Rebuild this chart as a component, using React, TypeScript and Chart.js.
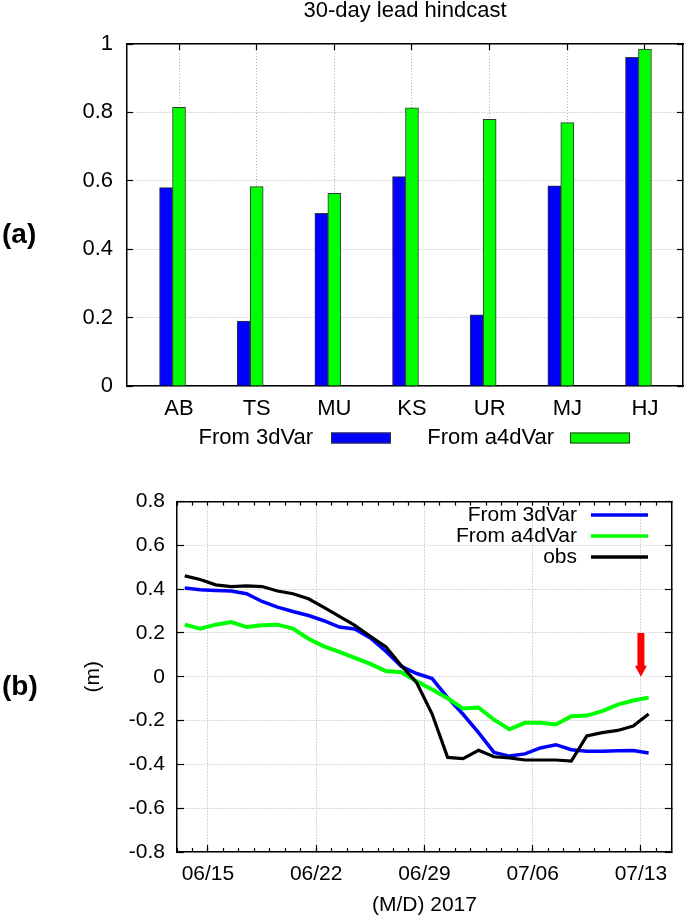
import React, { useEffect, useRef } from 'react';
import { Chart, registerables } from 'chart.js';

Chart.register(...registerables);

const FONT = "'Liberation Sans', Arial, Helvetica, sans-serif";

// ---------- (a) bar chart data ----------
const barTitle = '30-day lead hindcast';
const categories = ['AB', 'TS', 'MU', 'KS', 'UR', 'MJ', 'HJ'];
const bars3dVar = [0.58, 0.19, 0.505, 0.612, 0.208, 0.585, 0.961];
const barsA4dVar = [0.815, 0.583, 0.563, 0.813, 0.78, 0.77, 0.985];
const barYTicks = [0, 0.2, 0.4, 0.6, 0.8, 1];
const barYTickLabels = ['0', '0.2', '0.4', '0.6', '0.8', '1'];

// ---------- (b) line chart data ----------
const days = [
  '06/13', '06/14', '06/15', '06/16', '06/17', '06/18', '06/19', '06/20', '06/21', '06/22',
  '06/23', '06/24', '06/25', '06/26', '06/27', '06/28', '06/29', '06/30', '07/01', '07/02',
  '07/03', '07/04', '07/05', '07/06', '07/07', '07/08', '07/09', '07/10', '07/11', '07/12', '07/13',
];
const line3dVar = [
  0.405, 0.397, 0.394, 0.392, 0.379, 0.344, 0.318, 0.298, 0.28, 0.256,
  0.227, 0.218, 0.177, 0.117, 0.048, 0.015, -0.008, -0.095, -0.171, -0.255,
  -0.345, -0.362, -0.352, -0.325, -0.31, -0.333, -0.34, -0.34, -0.338, -0.337, -0.348,
];
const lineA4dVar = [
  0.238, 0.22, 0.238, 0.25, 0.227, 0.235, 0.238, 0.22, 0.174, 0.139,
  0.114, 0.086, 0.059, 0.026, 0.021, -0.02, -0.058, -0.098, -0.145, -0.14,
  -0.196, -0.24, -0.21, -0.21, -0.218, -0.18, -0.177, -0.157, -0.127, -0.108, -0.095,
];
const lineObs = [
  0.461, 0.444, 0.42, 0.412, 0.415, 0.412, 0.392, 0.379, 0.356, 0.317,
  0.276, 0.235, 0.185, 0.138, 0.052, -0.027, -0.17, -0.368, -0.374, -0.336,
  -0.365, -0.37, -0.38, -0.38, -0.38, -0.385, -0.27, -0.255, -0.245, -0.225, -0.17,
];
const lineXTickLabels = ['06/15', '06/22', '06/29', '07/06', '07/13'];
const lineYTicks = [-0.8, -0.6, -0.4, -0.2, 0, 0.2, 0.4, 0.6, 0.8];
const lineYTickLabels = ['-0.8', '-0.6', '-0.4', '-0.2', '0', '0.2', '0.4', '0.6', '0.8'];
const lineXTitle = '(M/D) 2017';
const lineYTitle = '(m)';
const arrowDay = '07/13';
const arrowFrom = 0.2;
const arrowTo = 0;

// ---------- plugins ----------
const gnuLegend = {
  id: 'gnuLegend',
  afterDraw(chart: any, _args: any, opts: any) {
    if (!opts || !opts.items) return;
    const ctx = chart.ctx;
    ctx.save();
    ctx.font = `${opts.size}px ${FONT}`;
    ctx.textAlign = 'right';
    ctx.textBaseline = 'middle';
    const items = opts.items;
    for (let i = 0; i < items.length; i++) {
      const it = items[i];
      const ds = chart.data.datasets[it.dataset];
      ctx.fillStyle = '#000';
      ctx.fillText(ds.label, it.textRight, it.y);
      if (opts.sample === 'box') {
        ctx.fillStyle = ds.backgroundColor;
        ctx.fillRect(it.sampleX, it.y - opts.boxH / 2, opts.sampleW, opts.boxH);
        ctx.strokeStyle = '#333';
        ctx.lineWidth = 1;
        ctx.strokeRect(it.sampleX + 0.5, it.y - opts.boxH / 2 + 0.5, opts.sampleW - 1, opts.boxH - 1);
      } else {
        ctx.strokeStyle = ds.borderColor;
        ctx.lineWidth = opts.lineW;
        ctx.beginPath();
        ctx.moveTo(it.sampleX, it.y);
        ctx.lineTo(it.sampleX + opts.sampleW, it.y);
        ctx.stroke();
      }
    }
    ctx.restore();
  },
};

const gnuArrow = {
  id: 'gnuArrow',
  afterDatasetsDraw(chart: any, _args: any, opts: any) {
    if (!opts || opts.x === undefined) return;
    const ctx = chart.ctx;
    const x = chart.scales.x.getPixelForValue(opts.x);
    const y1 = chart.scales.y.getPixelForValue(opts.from);
    const y2 = chart.scales.y.getPixelForValue(opts.to);
    const head = opts.headLen;
    const half = opts.headHalf;
    ctx.save();
    ctx.strokeStyle = opts.color;
    ctx.fillStyle = opts.color;
    ctx.lineWidth = opts.width;
    ctx.beginPath();
    ctx.moveTo(x, y1);
    ctx.lineTo(x, y2 - head + 1);
    ctx.stroke();
    ctx.beginPath();
    ctx.moveTo(x - half, y2 - head);
    ctx.lineTo(x + half, y2 - head);
    ctx.lineTo(x, y2);
    ctx.closePath();
    ctx.fill();
    ctx.restore();
  },
};

// ---------- shared styles ----------
const dotGrid = (tick: number) => ({
  color: '#b0b0b0',
  lineWidth: 1,
  tickColor: '#000',
  tickWidth: 1.2,
  tickBorderDash: [],
  tickLength: tick,
});
const border = { color: '#000', width: 1.5, dash: [1, 2] };
const plainBorder = { color: '#000', width: 1.5 };

export default function App() {
  const refA = useRef<HTMLCanvasElement>(null);
  const refB = useRef<HTMLCanvasElement>(null);

  useEffect(() => {
    Chart.defaults.font.family = FONT;
    Chart.defaults.color = '#000';

    // ---- chart (a) ----
    const xMin = -0.67;
    const xMax = 6.49;
    const barShift = 0.167;
    const catTicks = (s: any) => {
      s.ticks = categories.map((_, i) => ({ value: i }));
    };
    const yTicksA = (s: any) => {
      s.ticks = barYTicks.map((v) => ({ value: v }));
    };
    const chartA = new Chart(refA.current as HTMLCanvasElement, {
      type: 'bar',
      data: {
        datasets: [
          {
            label: 'From 3dVar',
            data: bars3dVar.map((v, i) => ({ x: i, y: v })) as any,
            backgroundColor: '#0000ff',
            borderColor: '#333333',
            borderWidth: 1,
            barThickness: 13,
            grouped: false,
            xAxisID: 'xs',
            yAxisID: 'y',
          },
          {
            label: 'From a4dVar',
            data: barsA4dVar.map((v, i) => ({ x: i, y: v })) as any,
            backgroundColor: '#00ff00',
            borderColor: '#333333',
            borderWidth: 1,
            barThickness: 13,
            grouped: false,
            xAxisID: 'x',
            yAxisID: 'y',
          },
        ] as any,
      },
      options: {
        responsive: false,
        animation: false,
        events: [],
        layout: { padding: 0 },
        plugins: {
          legend: { display: false },
          tooltip: { enabled: false },
          title: {
            display: true,
            text: barTitle,
            fullSize: false,
            color: '#000',
            font: { family: FONT, size: 22, weight: 'normal', lineHeight: 1 },
            padding: { top: 0, bottom: 22 },
          },
          gnuLegend: {
            size: 22,
            sample: 'box',
            sampleW: 60,
            boxH: 11,
            items: [
              { dataset: 0, textRight: 313, sampleX: 331, y: 438 },
              { dataset: 1, textRight: 554, sampleX: 570, y: 438 },
            ],
          },
        } as any,
        scales: {
          x: {
            type: 'linear',
            position: 'bottom',
            min: xMin,
            max: xMax,
            offset: false,
            afterBuildTicks: catTicks,
            ticks: {
              callback: (_v: any, i: number) => categories[i],
              font: { family: FONT, size: 22 },
              color: '#000',
              padding: 16,
              maxRotation: 0,
              autoSkip: false,
            },
            grid: { ...dotGrid(-6), offset: false },
            border,
            afterFit: (s: any) => {
              s.height = 84;
            },
          },
          xs: {
            type: 'linear',
            display: false,
            offset: false,
            min: xMin + barShift,
            max: xMax + barShift,
            grid: { offset: false },
          },
          xt: {
            type: 'linear',
            position: 'top',
            min: xMin,
            max: xMax,
            offset: false,
            afterBuildTicks: catTicks,
            ticks: { display: false },
            grid: { ...dotGrid(-6), drawOnChartArea: false, offset: false },
            border: plainBorder,
            afterFit: (s: any) => {
              s.height = 0;
            },
          },
          y: {
            type: 'linear',
            position: 'left',
            min: 0,
            max: 1,
            afterBuildTicks: yTicksA,
            ticks: {
              callback: (_v: any, i: number) => barYTickLabels[i],
              font: { family: FONT, size: 22 },
              color: '#000',
              padding: 20,
            },
            grid: dotGrid(-6),
            border,
            afterFit: (s: any) => {
              s.width = 127;
            },
          },
          yr: {
            type: 'linear',
            position: 'right',
            min: 0,
            max: 1,
            afterBuildTicks: yTicksA,
            ticks: { display: false },
            grid: { ...dotGrid(-6), drawOnChartArea: false },
            border: plainBorder,
            afterFit: (s: any) => {
              s.width = 2;
            },
          },
        } as any,
      },
      plugins: [gnuLegend],
    });

    // ---- chart (b) ----
    const dayMin = 0;
    const dayMax = days.length + 1;
    const majorTicks = (s: any) => {
      s.ticks = lineXTickLabels.map((l) => ({ value: days.indexOf(l) }));
    };
    const minorTicks = (s: any) => {
      const t: any[] = [];
      for (let d = dayMin; d <= dayMax; d++) t.push({ value: d });
      s.ticks = t;
    };
    const yTicksB = (s: any) => {
      s.ticks = lineYTicks.map((v) => ({ value: v }));
    };
    const toPts = (arr: number[]) => arr.map((v, i) => ({ x: i + 0.5, y: v }));
    const chartB = new Chart(refB.current as HTMLCanvasElement, {
      type: 'line',
      data: {
        datasets: [
          {
            label: 'From 3dVar',
            data: toPts(line3dVar) as any,
            borderColor: '#0000ff',
            borderWidth: 3.5,
            pointRadius: 0,
            tension: 0,
            order: 2,
          },
          {
            label: 'From a4dVar',
            data: toPts(lineA4dVar) as any,
            borderColor: '#00ff00',
            borderWidth: 4,
            pointRadius: 0,
            tension: 0,
            order: 1,
          },
          {
            label: 'obs',
            data: toPts(lineObs) as any,
            borderColor: '#000000',
            borderWidth: 3.2,
            pointRadius: 0,
            tension: 0,
            order: 0,
          },
        ],
      },
      options: {
        responsive: false,
        animation: false,
        events: [],
        layout: { padding: 0 },
        plugins: {
          legend: { display: false },
          tooltip: { enabled: false },
          gnuLegend: {
            size: 21,
            sample: 'line',
            sampleW: 57,
            lineW: 3.5,
            items: [
              { dataset: 0, textRight: 577, sampleX: 591, y: 45 },
              { dataset: 1, textRight: 577, sampleX: 591, y: 66 },
              { dataset: 2, textRight: 577, sampleX: 591, y: 87 },
            ],
          },
          gnuArrow: {
            x: days.indexOf(arrowDay),
            from: arrowFrom,
            to: arrowTo,
            color: '#ff0000',
            width: 7,
            headLen: 11,
            headHalf: 6,
          },
        } as any,
        scales: {
          x: {
            type: 'linear',
            position: 'bottom',
            min: dayMin,
            max: dayMax,
            weight: 0,
            afterBuildTicks: majorTicks,
            ticks: {
              callback: (_v: any, i: number) => lineXTickLabels[i],
              font: { family: FONT, size: 21 },
              color: '#000',
              padding: 17,
              maxRotation: 0,
              autoSkip: false,
            },
            grid: dotGrid(-7),
            border,
            title: {
              display: true,
              text: lineXTitle,
              font: { family: FONT, size: 21 },
              color: '#000',
              padding: { top: 0, bottom: 0 },
            },
            afterFit: (s: any) => {
              s.height = 66;
            },
          },
          xm: {
            type: 'linear',
            position: 'bottom',
            min: dayMin,
            max: dayMax,
            weight: -1,
            afterBuildTicks: minorTicks,
            ticks: { display: false },
            grid: { ...dotGrid(-4), drawOnChartArea: false },
            border: { display: false },
            afterFit: (s: any) => {
              s.height = 0;
            },
          },
          xt: {
            type: 'linear',
            position: 'top',
            min: dayMin,
            max: dayMax,
            afterBuildTicks: minorTicks,
            ticks: { display: false },
            grid: { ...dotGrid(-4), drawOnChartArea: false },
            border: plainBorder,
            afterFit: (s: any) => {
              s.height = 30;
            },
          },
          y: {
            type: 'linear',
            position: 'left',
            min: -0.8,
            max: 0.8,
            afterBuildTicks: yTicksB,
            ticks: {
              callback: (_v: any, i: number) => lineYTickLabels[i],
              font: { family: FONT, size: 21 },
              color: '#000',
              padding: 19,
            },
            grid: dotGrid(-7),
            border,
            title: {
              display: true,
              text: lineYTitle,
              font: { family: FONT, size: 21 },
              color: '#000',
              padding: { top: 81, bottom: 0 },
            },
            afterFit: (s: any) => {
              s.width = 177;
            },
          },
          yr: {
            type: 'linear',
            position: 'right',
            min: -0.8,
            max: 0.8,
            afterBuildTicks: yTicksB,
            ticks: { display: false },
            grid: { ...dotGrid(-7), drawOnChartArea: false },
            border: plainBorder,
            afterFit: (s: any) => {
              s.width = 12;
            },
          },
        } as any,
      },
      plugins: [gnuLegend, gnuArrow],
    });

    return () => {
      chartA.destroy();
      chartB.destroy();
    };
  }, []);

  const panelLabel: React.CSSProperties = {
    position: 'absolute',
    left: 2,
    fontFamily: FONT,
    fontSize: 28,
    fontWeight: 'bold',
    lineHeight: 1,
    color: '#000',
  };

  return (
    <div
      style={{
        position: 'absolute',
        left: 0,
        top: 0,
        width: 685,
        height: 918,
        background: '#fff',
        overflow: 'hidden',
      }}
    >
      <canvas
        ref={refA}
        width={685}
        height={470}
        style={{ position: 'absolute', left: 0, top: 0, width: 685, height: 470 }}
      />
      <canvas
        ref={refB}
        width={685}
        height={448}
        style={{ position: 'absolute', left: 0, top: 470, width: 685, height: 448 }}
      />
      <div style={{ ...panelLabel, top: 220 }}>(a)</div>
      <div style={{ ...panelLabel, top: 672 }}>(b)</div>
    </div>
  );
}
